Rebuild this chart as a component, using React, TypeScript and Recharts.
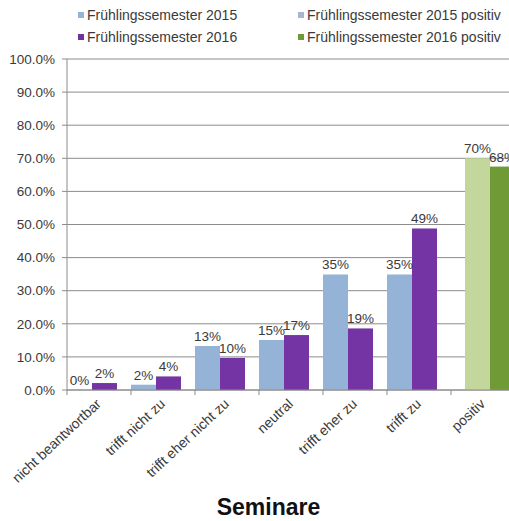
import { BarChart, Bar, XAxis, YAxis, CartesianGrid, LabelList } from 'recharts';

const categories = [
  'nicht beantwortbar',
  'trifft nicht zu',
  'trifft eher nicht zu',
  'neutral',
  'trifft eher zu',
  'trifft zu',
  'positiv',
];
const values2015 = [0, 1.6, 13.3, 15.1, 34.9, 34.9];
const values2016 = [2.1, 4.1, 9.7, 16.6, 18.6, 48.8];
const positiv2015 = 70.0;
const positiv2016 = 67.5;
const yTicks = [0, 10, 20, 30, 40, 50, 60, 70, 80, 90, 100];

const legendItems = [
  { name: 'Frühlingssemester 2015', color: '#95B3D7' },
  { name: 'Frühlingssemester 2015 positiv', color: '#A7B6CE' },
  { name: 'Frühlingssemester 2016', color: '#7030A0' },
  { name: 'Frühlingssemester 2016 positiv', color: '#6F9A35' },
];

const COLOR_2015 = '#95B3D7';
const COLOR_2016 = '#7434A3';
const COLOR_P2015 = '#C3D69B';
const COLOR_P2016 = '#6F9A35';
const FONT = '"Liberation Sans", Arial, sans-serif';
const TEXT = '#3a3a3a';
const GRID = '#8c8c8c';
const POS_INDEX = categories.length - 1;
// bars sit flush left in their band, the positiv pair flush right
const SHIFT = 7;

const data = categories.map((name, i) => ({
  name,
  s2015: i === POS_INDEX ? positiv2015 : values2015[i],
  s2016: i === POS_INDEX ? positiv2016 : values2016[i],
}));

const shiftOf = (index: number) => (index === POS_INDEX ? SHIFT : -SHIFT);

const makeShape = (color: string, posColor: string) => (props: any) => {
  const { x, y, width, height, index } = props;
  return (
    <rect
      x={x + shiftOf(index)}
      y={y}
      width={width}
      height={Math.max(height, 0)}
      fill={index === POS_INDEX ? posColor : color}
    />
  );
};

const renderLabel = (props: any) => {
  const { x, y, width, value, index } = props;
  return (
    <text
      x={x + width / 2 + shiftOf(index)}
      y={y - 5}
      textAnchor="middle"
      fontSize={13.5}
      fontFamily={FONT}
      fill={TEXT}
    >
      {Math.round(value)}%
    </text>
  );
};

const XTick = (props: any) => {
  const { x, y, payload, index } = props;
  const half = payload.offset ?? 32;
  const axisY = y - 8;
  return (
    <g>
      <line x1={x - half} x2={x - half} y1={axisY} y2={axisY + 5} stroke={GRID} />
      {index === POS_INDEX && (
        <line x1={x + half} x2={x + half} y1={axisY} y2={axisY + 5} stroke={GRID} />
      )}
      <text
        x={x + 3}
        y={y + 7}
        transform={`rotate(-43, ${x + 3}, ${y + 7})`}
        textAnchor="end"
        fontSize={14}
        fontFamily={FONT}
        fill={TEXT}
      >
        {payload.value}
      </text>
    </g>
  );
};

export default function App() {
  return (
    <div
      style={{
        position: 'absolute',
        left: 0,
        top: 0,
        width: 509,
        height: 521,
        overflow: 'hidden',
        background: '#fff',
        fontFamily: FONT,
      }}
    >
      {legendItems.map((item, i) => (
        <div
          key={item.name}
          style={{
            position: 'absolute',
            left: i % 2 === 0 ? 78 : 298,
            top: i < 2 ? 6 : 28,
            display: 'flex',
            alignItems: 'center',
            fontSize: 14,
            color: TEXT,
            whiteSpace: 'nowrap',
            lineHeight: '18px',
          }}
        >
          <span
            style={{ width: 6, height: 6, background: item.color, marginRight: 3, display: 'inline-block' }}
          />
          {item.name}
        </div>
      ))}
      <BarChart
        width={520}
        height={521}
        data={data}
        margin={{ top: 59, right: 5, bottom: 51, left: 0 }}
        barGap={0}
        style={{ position: 'absolute', left: 0, top: 0 }}
      >
        <CartesianGrid vertical={false} stroke={GRID} />
        <YAxis
          domain={[0, 100]}
          ticks={yTicks}
          interval={0}
          width={67}
          tickSize={5}
          tickMargin={7}
          tickFormatter={(v: number) => `${v.toFixed(1)}%`}
          tick={{ fontSize: 13.5, fill: TEXT, fontFamily: FONT }}
          axisLine={{ stroke: GRID }}
          tickLine={{ stroke: GRID }}
        />
        <XAxis
          dataKey="name"
          interval={0}
          height={80}
          tickSize={5}
          tickMargin={3}
          tickLine={false}
          axisLine={{ stroke: GRID }}
          tick={<XTick />}
        />
        <Bar dataKey="s2015" barSize={25} isAnimationActive={false} shape={makeShape(COLOR_2015, COLOR_P2015)}>
          <LabelList dataKey="s2015" content={renderLabel} />
        </Bar>
        <Bar dataKey="s2016" barSize={25} isAnimationActive={false} shape={makeShape(COLOR_2016, COLOR_P2016)}>
          <LabelList dataKey="s2016" content={renderLabel} />
        </Bar>
      </BarChart>
      <div
        style={{
          position: 'absolute',
          left: 0,
          width: 537,
          top: 494,
          textAlign: 'center',
          fontSize: 23,
          fontWeight: 'bold',
          color: '#111',
        }}
      >
        Seminare
      </div>
    </div>
  );
}
